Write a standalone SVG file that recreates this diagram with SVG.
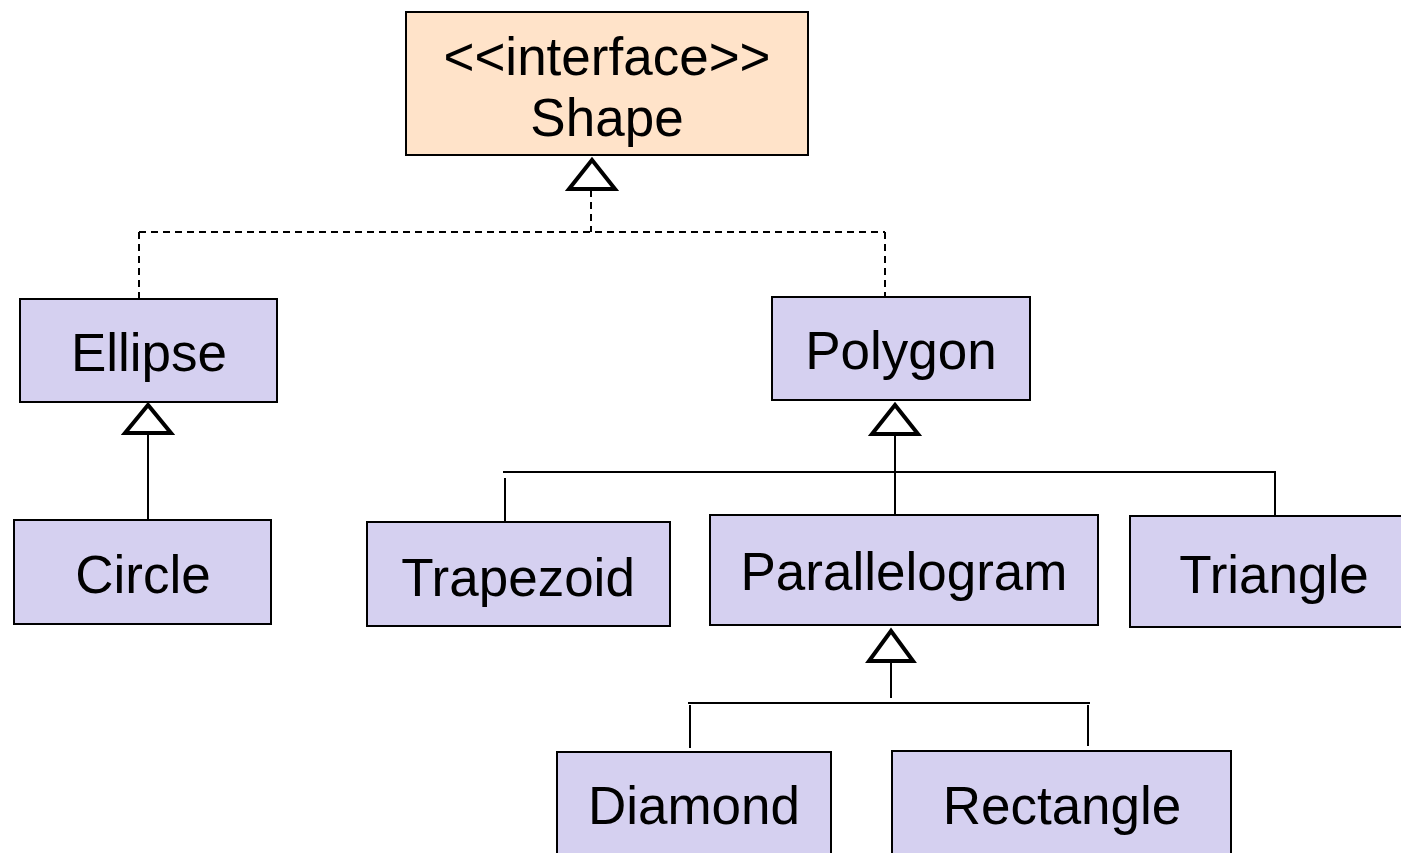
<svg xmlns="http://www.w3.org/2000/svg" width="1401" height="853" viewBox="0 0 1401 853">
<style>
.box{fill:#D5D0F0;stroke:#000;stroke-width:2}
.iface{fill:#FFE3C9;stroke:#000;stroke-width:2}
.lbl{font-family:"Liberation Sans",Arial,sans-serif;font-size:53px;fill:#000;text-anchor:middle}
.ln{stroke:#000;stroke-width:2;fill:none}
.dash{stroke:#000;stroke-width:2;fill:none;stroke-dasharray:7,5}
.tri{fill:#fff;stroke:#000;stroke-width:4}
</style>
<rect width="1401" height="853" fill="#fff"/>
<g id="connectors">
<path class="dash" d="M591,190 V232 M139,232 H885 M139,232 V298 M885,232 V296"/>
<polygon class="tri" points="592,160 569,189 615,189"/>
<path class="ln" d="M148,433 V520"/>
<polygon class="tri" points="148,405 125,433 171,433"/>
<path class="ln" d="M895,434 V520 M503,472 H1275 V516 M505,478 V521"/>
<polygon class="tri" points="895,405 872,434 918,434"/>
<path class="ln" d="M891,661 V698 M688,703 H1090 M690,705 V748 M1088,705 V746"/>
<polygon class="tri" points="891,631 869,661 913,661"/>
</g>
<g id="shape"><rect class="iface" x="406" y="12" width="402" height="143"/><text class="lbl" x="607" y="75">&lt;&lt;interface&gt;&gt;</text><text class="lbl" x="607" y="136">Shape</text></g>
<g id="ellipse"><rect class="box" x="20" y="299" width="257" height="103"/><text class="lbl" x="149" y="371">Ellipse</text></g>
<g id="circle"><rect class="box" x="14" y="520" width="257" height="104"/><text class="lbl" x="143" y="593">Circle</text></g>
<g id="polygon"><rect class="box" x="772" y="297" width="258" height="103"/><text class="lbl" x="901" y="369">Polygon</text></g>
<g id="trapezoid"><rect class="box" x="367" y="522" width="303" height="104"/><text class="lbl" x="518" y="596">Trapezoid</text></g>
<g id="parallelogram"><rect class="box" x="710" y="515" width="388" height="110"/><text class="lbl" x="904" y="590">Parallelogram</text></g>
<g id="triangle"><rect class="box" x="1130" y="516" width="280" height="111"/><text class="lbl" x="1274" y="593">Triangle</text></g>
<g id="diamond"><rect class="box" x="557" y="752" width="274" height="110"/><text class="lbl" x="694" y="824">Diamond</text></g>
<g id="rectangle"><rect class="box" x="892" y="751" width="339" height="111"/><text class="lbl" x="1062" y="824">Rectangle</text></g>
</svg>
